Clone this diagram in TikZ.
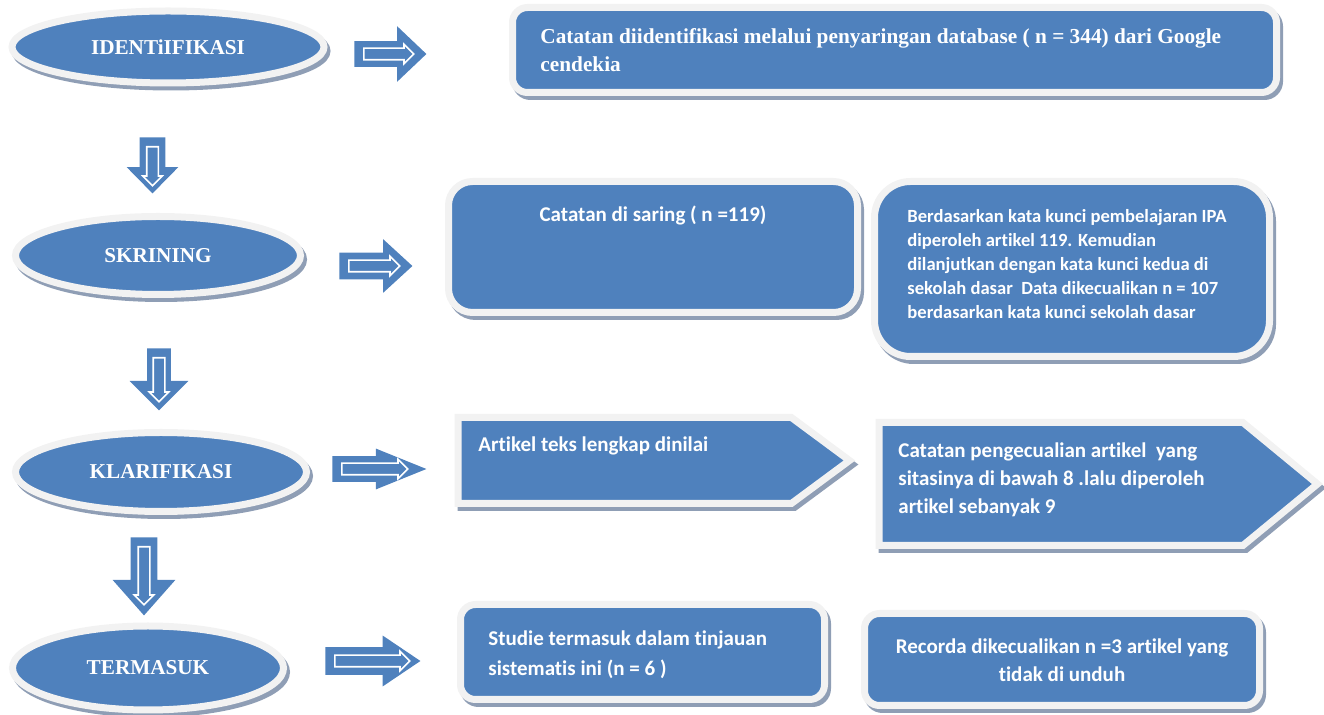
\documentclass[tikz,border=0pt]{standalone}
\usepackage{fontspec}
\setmainfont{Liberation Serif}
\newfontfamily\carlito{Carlito}[Ligatures=NoCommon]
\usetikzlibrary{calc}
\usetikzlibrary{shapes.geometric}
\usetikzlibrary{shapes.arrows}
\usetikzlibrary{shapes.symbols}
\usetikzlibrary{shadows}
\definecolor{boxblue}{RGB}{79,129,189}
\definecolor{rimgray}{RGB}{242,242,242}
\definecolor{shadegray}{RGB}{143,158,181}

\begin{document}
\begin{tikzpicture}[
    x=0.5pt, y=-0.5pt,
    blueshape/.style={fill=boxblue, draw=rimgray, line width=3.5pt,
        general shadow={fill=shadegray, draw=shadegray, line width=3.5pt,
            shadow xshift=1.5pt, shadow yshift=-2pt}},
    stage/.style={blueshape, ellipse, text=white,
        font=\bfseries\fontsize{10.6}{13}\selectfont},
    card/.style={blueshape, rectangle, rounded corners=#1},
    card/.default=7.5pt,
    flag/.style={blueshape, signal, signal to=east, signal pointer angle=#1, anchor=west},
    bodytext/.style={inner sep=0pt, text=white, align=left,
        font=\carlito\bfseries\fontsize{10.5}{14}\selectfont},
    blockarrow/.style={single arrow, fill=boxblue, draw=none, inner xsep=0pt, anchor=tail},
    innerarrow/.style={single arrow, draw=white, line width=0.8pt, fill=boxblue,
        inner xsep=0pt, inner ysep=2.5pt, single arrow head extend=2pt,
        single arrow tip angle=90, anchor=tail}
]
    \useasboundingbox (0,0) rectangle (1324,715);

    % stages on the left
    \node[stage, minimum width=156pt, minimum height=36pt] (iden) at (168,47) {IDENTiIFIKASI};
    \node[stage, minimum width=142.5pt, minimum height=39pt] (skrin) at (158,255.5) {SKRINING};
    \node[stage, minimum width=145.5pt, minimum height=39.5pt] (klar) at (161,472) {KLARIFIKASI};
    \node[stage, minimum width=135.5pt, minimum height=42pt] (term) at (148,668) {TERMASUK};

    % block arrows, placed by their tails
    \foreach \n/\x/\y/\len/\hw/\sh/\ang/\rot/\inlen in {
        ar1/354/54/72/55/25/87/0/50, ar2/339/266/73/53/26/85/0/51,
        ar3/332/469/94/40/25/44/0/66, ar4/325/661/95/50/27/68/0/75,
        dn1/152.5/137/56/51/25/89/-90/39, dn2/159/348/62/58/23/90/-90/44,
        dn3/144/537/78/62/26/83/-90/58} {
        \node[blockarrow, rotate=\rot, minimum height={\len*0.5pt},
            inner ysep={\sh*0.25pt}, single arrow head extend={(\hw-\sh)*0.25pt},
            single arrow tip angle=\ang] (\n) at (\x,\y) {};
        \node[innerarrow, rotate=\rot, minimum height={\inlen*0.5pt}] (\n-in)
            at ($(\n.tail)!4.5pt!(\n.tip)$) {};
    }

    % boxes
    \node[card, minimum width=382pt, minimum height=42.5pt] (catat) at (894.5,50) {};
    \node[card=12pt, minimum width=204.5pt, minimum height=65.5pt] (saring) at (653,247) {};
    \node[card=18pt, minimum width=197.5pt, minimum height=87.5pt] (kunci) at (1072,269) {};
    \node[flag=73, minimum width=195.75pt, minimum height=43pt] (artikel) at (454.5,460.5) {};
    \node[flag=79, minimum width=219.25pt, minimum height=61.5pt] (kecuali) at (875.5,484) {};
    \node[card, minimum width=182pt, minimum height=47.5pt] (studie) at (642.5,652) {};
    \node[card, minimum width=197.5pt, minimum height=46pt] (record) at (1062,659.5) {};

    % texts
    \node[bodytext, anchor=north west, font=\bfseries\fontsize{10.65}{14}\selectfont] (catat-txt) at (540,28)
        {Catatan diidentifikasi melalui penyaringan database ( n = 344) dari Google\\cendekia};
    \node[bodytext, anchor=north] (saring-txt) at (653,206) {Catatan di saring ( n =119)};
    \node[bodytext, anchor=north west, font=\carlito\bfseries\fontsize{9.3}{12}\selectfont] (kunci-txt) at (907,209)
        {Berdasarkan kata kunci pembelajaran IPA\\
         diperoleh artikel 119. Kemudian\\
         dilanjutkan dengan kata kunci kedua di\\
         sekolah dasar\ \ Data dikecualikan n = 107\\
         berdasarkan kata kunci sekolah dasar};
    \node[bodytext, anchor=north west] (artikel-txt) at (478,436) {Artikel teks lengkap dinilai};
    \node[bodytext, anchor=north west] (kecuali-txt) at (898,442)
        {Catatan pengecualian artikel\ \ yang\\
         sitasinya di bawah 8 .lalu diperoleh\\
         artikel sebanyak 9};
    \node[bodytext, anchor=north west, font=\carlito\bfseries\fontsize{10.5}{15}\selectfont] (studie-txt) at (488,630)
        {Studie termasuk dalam tinjauan\\sistematis ini (n = 6 )};
    \node[bodytext, anchor=north, align=center] (record-txt) at (1062,638)
        {Recorda dikecualikan n =3 artikel yang\\tidak di unduh};
\end{tikzpicture}
\end{document}
